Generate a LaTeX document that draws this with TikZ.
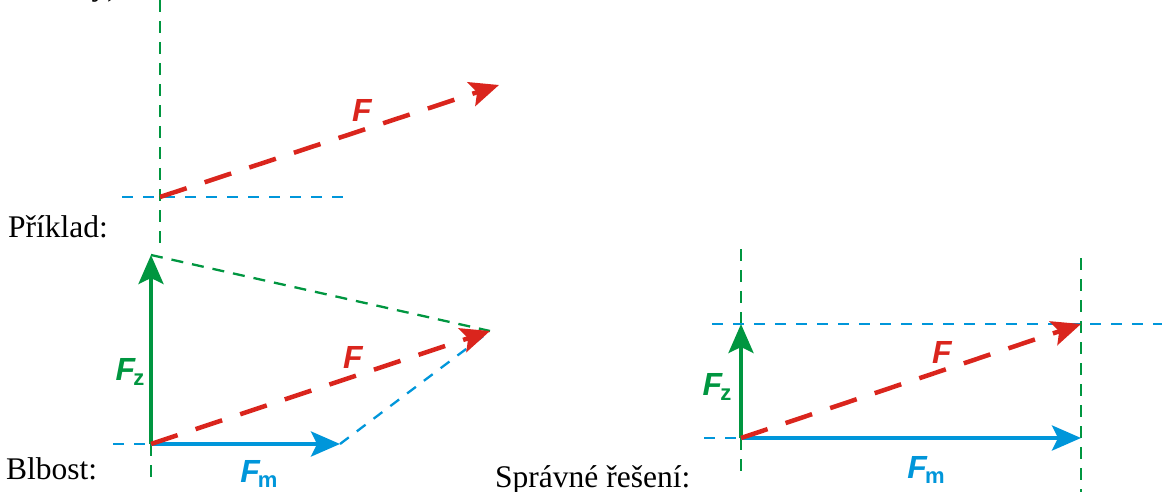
\documentclass[tikz,border=0pt]{standalone}
\usepackage{fontspec}
\setmainfont{Liberation Serif}
\newfontfamily\labfont{Liberation Sans}
\usetikzlibrary{arrows.meta}
\definecolor{cred}{RGB}{218,37,29}
\definecolor{cgreen}{RGB}{0,150,64}
\definecolor{cblue}{RGB}{0,150,218}
\newcommand\vF{{\labfont\bfseries\itshape\fontsize{32}{32}\selectfont F}}
\newcommand\vFs[1]{\vF\kern-2pt\raisebox{-5pt}{\labfont\bfseries\fontsize{22}{22}\selectfont #1}}
\tikzset{
  tip/.style={-{Stealth[length=29pt,width=25pt,inset=6pt]}},
  gvec/.style={cgreen,line width=4pt,tip},
  bvec/.style={cblue,line width=4pt,tip},
  fvec/.style={cred,line width=4.5pt,dash pattern=on 28pt off 19pt,tip},
  gdash/.style={cgreen,line width=2.3pt,dash pattern=on 12pt off 9pt},
  bdash/.style={cblue,line width=2.3pt,dash pattern=on 11pt off 10pt},
  lbl/.style={inner sep=0pt},
  txt/.style={font=\fontsize{31.5}{36}\selectfont,inner sep=0pt,anchor=base west},
}
\begin{document}
\begin{tikzpicture}[x=1pt,y=-1pt]
\useasboundingbox (0,0) rectangle (1162,492);
% top fragment of text
\node[txt,anchor=base east] (frag) at (126,-4) {y),};
% top example
\coordinate (A0) at (160,197);
\coordinate (Atip) at (499,85);
\coordinate (Agt) at (160,0);
\coordinate (Agb) at (160,245);
\coordinate (Abl) at (122,197);
\coordinate (Abr) at (349,197);
\draw[gdash] (Agt) -- (Agb);
\draw[bdash] (Abl) -- (Abr);
\draw[fvec] (A0) -- (Atip);
\node[lbl,cred] (AF) at (362,110) {\vF};
\node[txt] (t1) at (8,237) {Příklad:};
% wrong solution
\coordinate (B0) at (151,444);
\coordinate (Bz) at (151,255);
\coordinate (Bm) at (340,444);
\coordinate (Bf) at (490,331);
\coordinate (Bgb) at (151,484);
\coordinate (Bbl) at (113,444);
\draw[gdash] (B0) -- (Bgb);
\draw[bdash] (Bbl) -- (B0);
\draw[gdash] (Bz) -- (Bf);
\draw[bdash] (Bm) -- (Bf);
\draw[gvec] (B0) -- (Bz);
\draw[bvec] (B0) -- (Bm);
\draw[fvec] (B0) -- (Bf);
\node[lbl,cgreen] (BFz) at (130,372) {\vFs{z}};
\node[lbl,cred] (BF) at (353,357) {\vF};
\node[lbl,cblue] (BFm) at (259,474) {\vFs{m}};
\node[txt] (t2) at (6,479) {Blbost:};
% correct solution
\coordinate (C0) at (741,438);
\coordinate (Cz) at (741,324);
\coordinate (Cm) at (1081,438);
\coordinate (Cf) at (1081,324);
\coordinate (Cgt) at (741,249);
\coordinate (Cgb) at (741,476);
\coordinate (Cbl) at (704,438);
\coordinate (Cbdl) at (712,324);
\coordinate (Cbdr) at (1162,324);
\coordinate (Crt) at (1081,258);
\coordinate (Crb) at (1081,492);
\draw[gdash] (Cgt) -- (Cgb);
\draw[gdash] (Crt) -- (Crb);
\draw[bdash] (Cbdl) -- (Cbdr);
\draw[bdash] (Cbl) -- (C0);
\draw[gvec] (C0) -- (Cz);
\draw[bvec] (C0) -- (Cm);
\draw[fvec] (C0) -- (Cf);
\node[lbl,cgreen] (CFz) at (717,387) {\vFs{z}};
\node[lbl,cred] (CF) at (942,352) {\vF};
\node[lbl,cblue] (CFm) at (926,470) {\vFs{m}};
\node[txt] (t3) at (495,487) {Správné řešení:};
\end{tikzpicture}
\end{document}
